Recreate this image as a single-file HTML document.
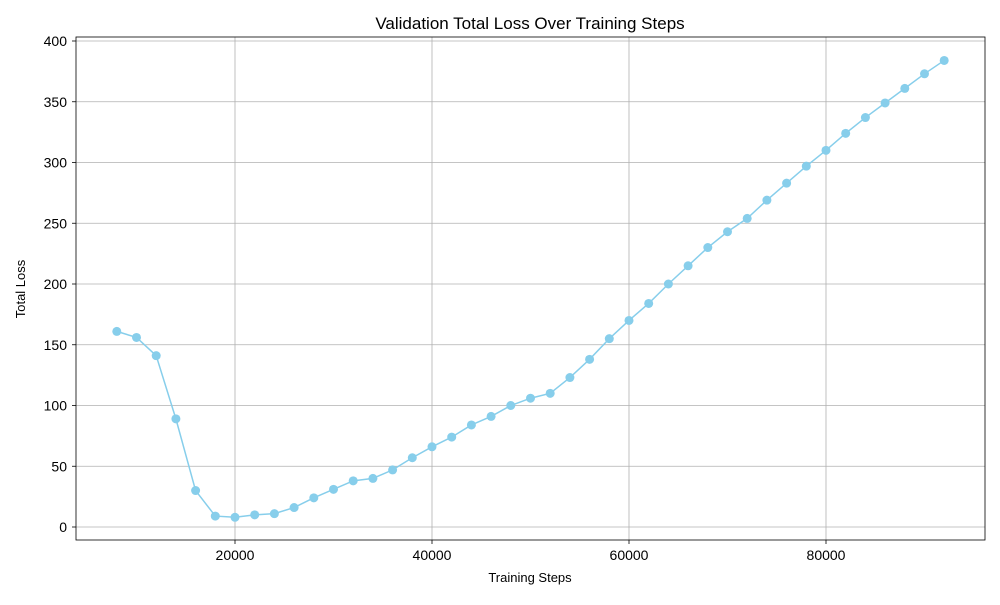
<!DOCTYPE html>
<html><head><meta charset="utf-8"><style>
body{margin:0;background:#fff;font-family:"Liberation Sans",sans-serif;}
svg text{font-family:"Liberation Sans",sans-serif;fill:#000;}
</style></head><body>
<svg id="chart" width="1000" height="600">
<rect x="0" y="0" width="1000" height="600" fill="#fff"/>
<text x="530" y="29" font-size="17" text-anchor="middle">Validation Total Loss Over Training Steps</text>
<g id="grid"></g>
<rect x="76" y="37" width="909" height="503" fill="none" stroke="#000" stroke-width="0.8"/>
<g id="xticks"></g>
<g id="yticks"></g>
<text x="530" y="582" font-size="13" text-anchor="middle">Training Steps</text>
<text x="25" y="289" font-size="13" text-anchor="middle" transform="rotate(-90 25 289)">Total Loss</text>
<g id="series"></g>
</svg>
<script>
const steps = [8000,10000,12000,14000,16000,18000,20000,22000,24000,26000,28000,30000,32000,34000,36000,38000,40000,42000,44000,46000,48000,50000,52000,54000,56000,58000,60000,62000,64000,66000,68000,70000,72000,74000,76000,78000,80000,82000,84000,86000,88000,90000,92000];
const losses = [161,156,141,89,30,9,8,10,11,16,24,31,38,40,47,57,66,74,84,91,100,106,110,123,138,155,170,184,200,215,230,243,254,269,283,297,310,324,337,349,361,373,384];
const xTicks = [20000,40000,60000,80000];
const yTicks = [0,50,100,150,200,250,300,350,400];
const NS="http://www.w3.org/2000/svg";
function xs(v){return 38+v*0.00985;}
function ys(v){return 527-v*1.215;}
function mk(tag,attrs,parent){const e=document.createElementNS(NS,tag);for(const k in attrs)e.setAttribute(k,attrs[k]);parent.appendChild(e);return e;}
const grid=document.getElementById('grid'),xg=document.getElementById('xticks'),yg=document.getElementById('yticks'),sg=document.getElementById('series');
xTicks.forEach(t=>{const x=xs(t);
 const g=mk('line',{x1:x,x2:x,y1:37,y2:540,stroke:'#b0b0b0','stroke-width':0.8},grid);
 
 
 mk('line',{x1:x,x2:x,y1:540,y2:544,stroke:'#000','stroke-width':0.8},xg);
 const tx=mk('text',{x:x,y:560,'font-size':14,'text-anchor':'middle'},xg);tx.textContent=t;
 
 
});
yTicks.forEach(t=>{const y=ys(t);
 const g=mk('line',{x1:76,x2:985,y1:y,y2:y,stroke:'#b0b0b0','stroke-width':0.8},grid);
 
 
 mk('line',{x1:72,x2:76,y1:y,y2:y,stroke:'#000','stroke-width':0.8},yg);
 const tx=mk('text',{x:67,y:y+5,'font-size':14,'text-anchor':'end'},yg);tx.textContent=t;
 
 
});
const pts=steps.map((s,i)=>xs(s)+','+ys(losses[i])).join(' ');
const pl=mk('polyline',{points:pts,fill:'none',stroke:'#87ceeb','stroke-width':1.5},sg);


steps.forEach((s,i)=>{const c=mk('circle',{cx:xs(s),cy:ys(losses[i]),r:4.5,fill:'#87ceeb'},sg);
 
 
});
</script>
</body></html>
